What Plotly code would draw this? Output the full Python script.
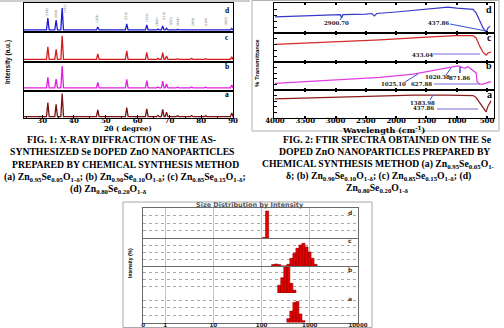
import plotly.graph_objects as go

W, H = 504, 328
def px(x): return x / W
def py(y): return 1 - y / H

# ---------------- DATA ----------------
# Fig 1: XRD (2theta peak positions, relative peak heights per sample, baselines)
two_theta_peaks = [31.8, 34.4, 36.3, 47.5, 56.6, 62.9, 66.4, 67.9, 69.1, 72.6, 77.0, 81.4, 89.6]
xrd_a_heights = [57, 51, 91, 30, 39, 34, 10, 32, 22, 8, 9, 8, 19]
xrd_b_heights = [47, 41, 86, 30, 40, 36, 14, 34, 24, 13, 14, 13, 21]
xrd_c_heights = [51, 42, 87, 27, 37, 32, 12, 31, 20, 11, 12, 11, 17]
xrd_d_heights = [48, 41, 83, 17, 28, 24, 10, 21, 13, 9, 9, 8, 12]
xrd_a_base, xrd_b_base, xrd_c_base, xrd_d_base = 5, 11, 9, 7
xrd_ticks = [30, 40, 50, 60, 70, 80, 90]
hkl_labels = ["(100)", "(002)", "(101)", "(102)", "(110)", "(103)", "(200)",
              "(112)", "(201)", "(004)", "(202)", "(104)", "(203)"]
hkl_2theta = [31.6, 34.4, 37.4, 47.3, 56.5, 62.9, 66.1, 68.2, 70.5, 72.5, 77.3, 81.5, 87.8]
hkl_level = [68, 62, 82, 45, 55, 52, 38, 56, 40, 36, 36, 36, 36]

# Fig 2: FTIR (wavenumber, % transmittance, relative per panel)
ftir_wn_d = [4000, 3500, 3000, 2920, 2900, 2880, 2500, 2400, 2360, 2320, 2000, 1500, 1144, 1000, 731, 680, 615, 566, 516, 483, 450]
ftir_d = [54, 57, 59, 61, 50, 61, 63, 65, 57, 65, 70, 78, 86, 83, 79, 67, 37, 17, 3, 17, 23]
ftir_wn_c = [4000, 3000, 2267, 1500, 1012, 731, 680, 615, 566, 516, 483, 434]
ftir_c = [61, 69, 76, 86, 91, 91, 83, 52, 34, 24, 31, 34]
ftir_wn_b = [4000, 3000, 2267, 1715, 1159, 1078, 979, 900, 863, 814, 731, 680, 665, 615, 566, 516, 434]
ftir_b = [24, 36, 45, 57, 78, 80, 86, 80, 78, 83, 71, 61, 30, 21, 21, 24, 30]
ftir_wn_a = [4000, 3000, 2267, 1715, 1159, 731, 680, 615, 566, 516, 483, 434]
ftir_a = [68, 75, 79, 82, 82, 80, 73, 54, 39, 22, 43, 61]
ftir_ticks = [4000, 3500, 3000, 2500, 2000, 1500, 1000, 500]

# Fig 3: DLS size distribution by intensity (bin centre size nm, intensity %)
dls_size_d = [112.8, 130.4]
dls_int_d = [2, 90]
dls_size_c = [174.2, 201.3, 232.7, 268.9, 310.8, 359.2, 414.8, 479.4, 554.0, 640.4, 740.1, 855.3, 988.5, 1141.9, 1319.8]
dls_int_c = [1.0, 1.4, 1.0, 0, 0, 1.2, 5.5, 9.1, 12.6, 15.0, 16.2, 13.6, 10.0, 5.5, 1.2]
dls_size_b = [232.7, 268.9, 310.8, 359.2, 414.8, 479.4]
dls_int_b = [8.6, 17, 29, 29, 10.7, 3.2]
dls_size_a = [359.2, 414.8, 479.4, 554.0, 640.4, 740.1]
dls_int_a = [3.9, 11.6, 20.3, 21.3, 8.7, 1.9]
dls_ticks = [0.35, 1, 10, 100, 1000, 10000]
dls_ticktext = ["0", "1", "10", "100", "1000", "10000"]

# ---------------- FIGURE ----------------
fig = go.Figure()

def xr(i): return "x" if i == 1 else f"x{i}"
def yr(i): return "y" if i == 1 else f"y{i}"
def xk(i): return "xaxis" if i == 1 else f"xaxis{i}"
def yk(i): return "yaxis" if i == 1 else f"yaxis{i}"

layout = {}

# ---- XRD ----
def xrd_profile(peaks, heights, base, lo=24.0, hi=90.6, hw=0.42):
    xs, ys = [lo], [base]
    for p, h in zip(peaks, heights):
        xs += [p - hw, p, p + hw]
        ys += [base, h, base]
    xs.append(hi); ys.append(base)
    return xs, ys

xrd_sets = [(xrd_a_heights, xrd_a_base, "#7a1212", 91, 118),
            (xrd_b_heights, xrd_b_base, "#e01ee0", 62, 91),
            (xrd_c_heights, xrd_c_base, "#d41e1e", 32, 62),
            (xrd_d_heights, xrd_d_base, "#1a1ad8", 3, 32)]
for n, (hts, base, col, top, bot) in enumerate(xrd_sets):
    i = n + 1
    xs, ys = xrd_profile(two_theta_peaks, hts, base)
    fig.add_trace(go.Scatter(x=xs, y=ys, mode="lines", line=dict(color=col, width=1.3),
                             xaxis=xr(i), yaxis=yr(i), hoverinfo="skip"))
    xa = dict(domain=[px(24), px(233)], range=[24.3, 90], anchor=yr(i), showgrid=False,
              zeroline=False, showline=True, mirror=True, linecolor="black", linewidth=1,
              automargin=False)
    if i == 1:
        xa.update(tickvals=xrd_ticks, ticks="inside", ticklen=3, tickcolor="black",
                  ticklabelstandoff=-4,
                  tickfont=dict(family="DejaVu Serif", size=7, color="black", weight="bold"),
                  minor=dict(ticks="inside", ticklen=2, dtick=5, tickcolor="black"))
    else:
        xa.update(matches="x", showticklabels=False, ticks="")
    layout[xk(i)] = xa
    layout[yk(i)] = dict(domain=[py(bot), py(top)], range=[0, 100], anchor=xr(i), showgrid=False,
                         zeroline=False, showline=True, mirror=True, linecolor="black",
                         linewidth=1, showticklabels=False, ticks="", automargin=False)

# ---- FTIR ----
ftir_sets = [(ftir_wn_a, ftir_a, "#8c1c1c", 90, 118),
             (ftir_wn_b, ftir_b, "#e03ce0", 62, 90),
             (ftir_wn_c, ftir_c, "#d42a2a", 33, 62),
             (ftir_wn_d, ftir_d, "#3838c8", 3, 33)]
for n, (wn, tr, col, top, bot) in enumerate(ftir_sets):
    i = n + 5
    fig.add_trace(go.Scatter(x=wn, y=tr, mode="lines", line=dict(color=col, width=1.2),
                             xaxis=xr(i), yaxis=yr(i), hoverinfo="skip"))
    xa = dict(domain=[px(274), px(494)], range=[4016, 385], anchor=yr(i), showgrid=False,
              zeroline=False, showline=True, mirror="ticks", linecolor="black", linewidth=1,
              tickvals=ftir_ticks, ticks="inside", ticklen=2, tickwidth=2, tickcolor="black",
              automargin=False)
    if i == 5:
        xa.update(ticklabelstandoff=-4,
                  tickfont=dict(family="DejaVu Serif", size=7, color="black", weight="bold"))
    else:
        xa.update(matches="x5", showticklabels=False)
    layout[xk(i)] = xa
    layout[yk(i)] = dict(domain=[py(bot), py(top)], range=[0, 100], anchor=xr(i), showgrid=False,
                         zeroline=False, showline=True, mirror=True, linecolor="black",
                         linewidth=1, showticklabels=False, ticks="inside", ticklen=3,
                         dtick=20, tickcolor="black", automargin=False)

# ---- DLS ----
def bars(sizes, vals, half=1.075):
    xs, ys = [], []
    for s, v in zip(sizes, vals):
        l, r = s / half, s * half
        xs += [l, l, r, r, l, None]
        ys += [0, v, v, 0, 0, None]
    return xs, ys

dls_sets = [(dls_size_a, dls_int_a, 30, 7.5, 293, 322.5),
            (dls_size_b, dls_int_b, 30, 7.5, 266, 293),
            (dls_size_c, dls_int_c, 20, 5, 238, 266),
            (dls_size_d, dls_int_d, 100, 25, 208, 238)]
for n, (sz, it, ymax, dt, top, bot) in enumerate(dls_sets):
    i = n + 9
    xs, ys = bars(sz, it)
    fig.add_trace(go.Scatter(x=xs, y=ys, mode="lines", fill="toself", fillcolor="#e60000",
                             line=dict(color="#9a0000", width=0.6),
                             xaxis=xr(i), yaxis=yr(i), hoverinfo="skip"))
    xa = dict(domain=[px(143), px(358)], type="log", range=[-0.458, 4.0], anchor=yr(i),
              tickvals=dls_ticks, ticktext=dls_ticktext, showgrid=True, gridcolor="#c4c4c4",
              gridwidth=1, zeroline=False, ticks="", automargin=False,
              showline=(i != 10), mirror=(i == 12), linecolor="#6a6a6a", linewidth=1)
    if i == 9:
        xa.update(ticklabelstandoff=-3,
                  tickfont=dict(family="DejaVu Sans", size=5.5, color="#222", weight="bold"))
    else:
        xa.update(matches="x9", showticklabels=False)
    layout[xk(i)] = xa
    layout[yk(i)] = dict(domain=[py(bot), py(top)], range=[0, ymax], dtick=dt, anchor=xr(i),
                         showgrid=True, gridcolor="#a8a8a8", griddash="dot", gridwidth=1,
                         zeroline=False, showline=True, mirror=True, linecolor="#6a6a6a",
                         linewidth=1, showticklabels=False, ticks="", automargin=False)

fig.update_layout(width=W, height=H, margin=dict(l=0, r=0, t=0, b=0),
                  paper_bgcolor="white", plot_bgcolor="white", showlegend=False, **layout)

# ---------------- TEXT ----------------
def text(x, y, s, size, family="Liberation Serif", color="black", bold=True, angle=0, xanchor="center"):
    fig.add_annotation(x=px(x), y=py(y), xref="paper", yref="paper", text=s, showarrow=False,
                       font=dict(family=family, size=size, color=color,
                                 weight="bold" if bold else "normal"),
                       xanchor=xanchor, yanchor="middle", textangle=angle, borderpad=0)

def line(x0, y0, x1, y1, color, width=1):
    fig.add_shape(type="line", xref="paper", yref="paper", x0=px(x0), y0=py(y0),
                  x1=px(x1), y1=py(y1), line=dict(color=color, width=width))

# XRD labels
text(128, 128.5, "2θ ( degree)", 7, family="DejaVu Serif")
text(8, 62, "Intensity (a.u.)", 6.5, family="Liberation Sans", angle=-90)
for lab, yy in zip(["d", "c", "b", "a"], [10, 37, 67, 94]):
    text(227, yy, lab, 7.5)
for lab, xx, yy in zip(hkl_labels, hkl_2theta, hkl_level):
    fig.add_annotation(x=xx, y=yy, xref="x4", yref="y4", text=lab, showarrow=False,
                       font=dict(family="DejaVu Sans", size=3.2, color="#666"),
                       borderpad=0, textangle=-90)

# FTIR labels
text(383, 129.5, "Wavelength (cm<sup>-1</sup>)", 8, family="DejaVu Serif")
text(257, 63, "% Transmittance", 6, family="Liberation Sans", angle=-90)
for lab, yy in zip(["d", "c", "b", "a"], [9, 37, 66, 94]):
    text(489, yy, lab, 10)
ftir_notes = [("2900.70", 336, 23), ("437.86", 438, 23), ("433.04", 422, 55),
              ("1025.10", 393, 84), ("627.88", 421, 84), ("1020.38", 437, 77),
              ("871.86", 459, 78), ("1383.98", 422, 103), ("437.86", 423, 108)]
for s, xx, yy in ftir_notes:
    text(xx, yy, s, 5.5, family="DejaVu Serif", color="#222")
blue = "#3a50d8"
purple = "#7868d8"
line(343, 15, 340, 20, blue)
line(450, 24, 486, 31, blue)
line(433, 54, 480, 54, purple)
line(405, 82, 418, 74, blue)
line(446, 75, 451, 68, blue)
line(460, 67, 460, 73, blue, 1.5)
line(434, 84, 480, 84, purple)
line(430, 100, 433, 95, blue)
line(437, 109, 478, 109, purple)

# DLS labels
text(250, 204.5, "Size Distribution by Intensity", 6.5, family="DejaVu Sans", color="#555")
text(130, 263, "Intensity (%)", 5, family="Liberation Sans", angle=-90)
for lab, yy in zip(["d", "c", "b", "a"], [212, 240, 269, 298]):
    text(350, yy, lab, 6, family="DejaVu Sans", color="#333")

# frames
line(0, 1, 250, 1, "#9a9a9a")
fig.add_shape(type="rect", xref="paper", yref="paper", x0=px(252), y0=py(131), x1=px(499), y1=py(0.5),
              line=dict(color="#b0b0b0", width=1))
fig.add_shape(type="rect", xref="paper", yref="paper", x0=px(123), y0=py(327.5), x1=px(372), y1=py(202),
              line=dict(color="#a8a8a8", width=1))

# Captions
sub = lambda a, b, c: f"Zn<sub>{a}</sub>Se<sub>{b}</sub>O<sub>{c}</sub>"
text(121, 139, "FIG. 1: X-RAY DIFFRACTION OF THE AS-", 9.7)
text(122, 151.5, "SYNTHESIZED Se DOPED ZnO NANOPARTICLES", 9.7)
text(125, 164, "PREPARED BY CHEMICAL SYNTHESIS METHOD", 9.7)
text(125, 177, f"(a) {sub('0.95','0.05','1-δ')}; (b) {sub('0.90','0.10','1-δ')}; (c) {sub('0.85','0.15','1-δ')};", 9.7)
text(108, 189, f"(d) {sub('0.80','0.20','1-δ')}", 9.7)

text(387, 139.5, "FIG. 2: FTIR SPECTRA OBTAINED ON THE Se", 9.7)
text(384, 151.5, "DOPED ZnO NANOPARTICLES PREPARED BY", 9.7)
text(378, 164, f"CHEMICAL SYNTHESIS METHOD (a) {sub('0.95','0.05','1-')}", 9.7)
text(378, 176, f"δ; (b) {sub('0.90','0.10','1-δ')}; (c) {sub('0.85','0.15','1-δ')}; (d)", 9.7)
text(377, 188, sub('0.80', '0.20', '1-δ'), 9.7)

fig.write_html("out.html")
